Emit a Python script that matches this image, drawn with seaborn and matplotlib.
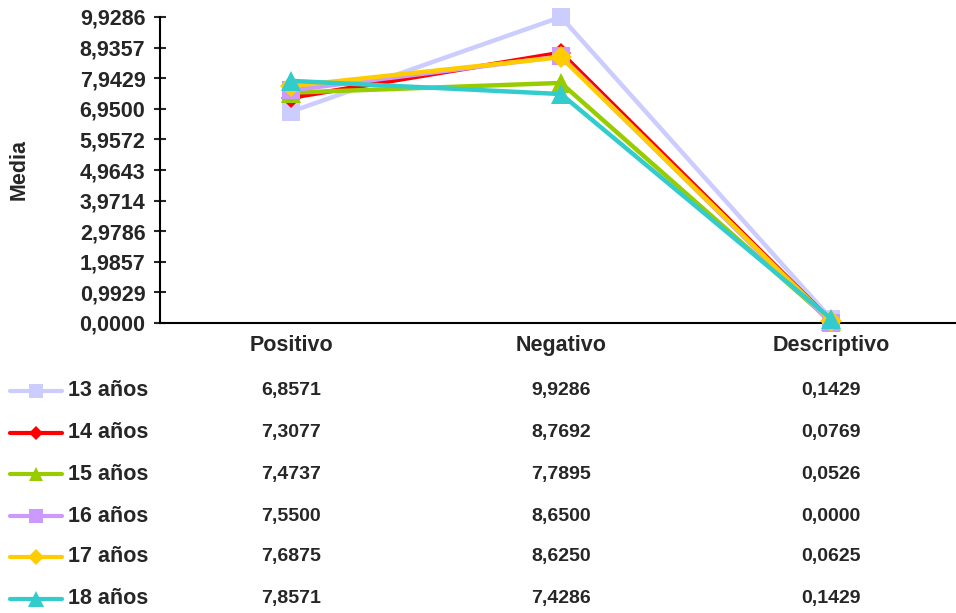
import numpy as np
import pandas as pd
import matplotlib
matplotlib.use('Agg')
import matplotlib.pyplot as plt
import seaborn as sns
from matplotlib.lines import Line2D
from matplotlib.transforms import blended_transform_factory

sns.set_style('white')
plt.rcParams['font.family'] = ['Liberation Sans', 'DejaVu Sans']
plt.rcParams['font.weight'] = 'bold'

# data
categories = ['Positivo', 'Negativo', 'Descriptivo']
groups = ['13 años', '14 años', '15 años', '16 años', '17 años', '18 años']
positivo = [6.8571, 7.3077, 7.4737, 7.5500, 7.6875, 7.8571]
negativo = [9.9286, 8.7692, 7.7895, 8.6500, 8.6250, 7.4286]
descriptivo = [0.1429, 0.0769, 0.0526, 0.0000, 0.0625, 0.1429]
y_ticks = [0.0000, 0.9929, 1.9857, 2.9786, 3.9714, 4.9643, 5.9572, 6.9500, 7.9429, 8.9357, 9.9286]

colors = ['#CCCCFF', '#FF0000', '#99CC00', '#CC99FF', '#FFCC00', '#33CCCC']
markers = ['s', 'D', '^', 's', 'D', '^']
msizes = [13, 10, 14, 13, 11, 15]

rows = []
for g, p, n, d in zip(groups, positivo, negativo, descriptivo):
    for c, v in zip(categories, [p, n, d]):
        rows.append({'cat': c, 'media': v, 'edad': g})
df = pd.DataFrame(rows)
df['x'] = df['cat'].map({c: i for i, c in enumerate(categories)})

W, H = 956, 613
fig = plt.figure(figsize=(W / 100, H / 100), dpi=100)
ax = fig.add_axes([160 / W, 1 - 323 / H, 810 / W, 306 / H])

for i, g in enumerate(groups):
    sub = df[df['edad'] == g]
    sns.lineplot(data=sub, x='x', y='media', ax=ax, color=colors[i], lw=3.2,
                 marker=markers[i], markersize=msizes[i], markeredgewidth=0,
                 markeredgecolor=colors[i], clip_on=False, zorder=3 + i,
                 legend=False)

FS = 15.5
ax.set_xlim(-0.485, 2.515)
ax.set_ylim(0, 9.9286)
ax.set_yticks(y_ticks)
ax.set_yticklabels([f'{t:.4f}'.replace('.', ',') for t in y_ticks],
                   fontsize=FS, fontweight='bold')
ax.set_xticks([])
ax.set_xlabel('')
ax.set_ylabel('Media', fontsize=FS, fontweight='bold', labelpad=36)
ax.tick_params(axis='y', direction='inout', length=9, width=1.5, left=True, pad=6)
for s in ['top', 'right']:
    ax.spines[s].set_visible(False)
for s in ['left', 'bottom']:
    ax.spines[s].set_color('black')
    ax.spines[s].set_linewidth(1.5)

# data table below the axes
trans = blended_transform_factory(ax.transData, fig.transFigure)
for j, c in enumerate(categories):
    fig.text(j, 1 - 345 / H, c, transform=trans, ha='center', va='center',
             fontsize=FS, fontweight='bold')

row_y = [391, 433, 474, 516, 557, 599]
for i, g in enumerate(groups):
    yf = 1 - row_y[i] / H
    fig.add_artist(Line2D([10 / W, 62 / W], [yf, yf], color=colors[i], lw=3,
                          transform=fig.transFigure))
    fig.add_artist(Line2D([36 / W], [yf], color=colors[i], marker=markers[i],
                          markersize=msizes[i] * 0.75, markeredgewidth=0,
                          transform=fig.transFigure))
    fig.text(68 / W, yf, g, ha='left', va='center', fontsize=FS, fontweight='bold')
    for j, vals in enumerate([positivo, negativo, descriptivo]):
        fig.text(j, yf, f'{vals[i]:.4f}'.replace('.', ','), transform=trans,
                 ha='center', va='center', fontsize=14, fontweight='bold')

fig.savefig('out.png', dpi=100)
